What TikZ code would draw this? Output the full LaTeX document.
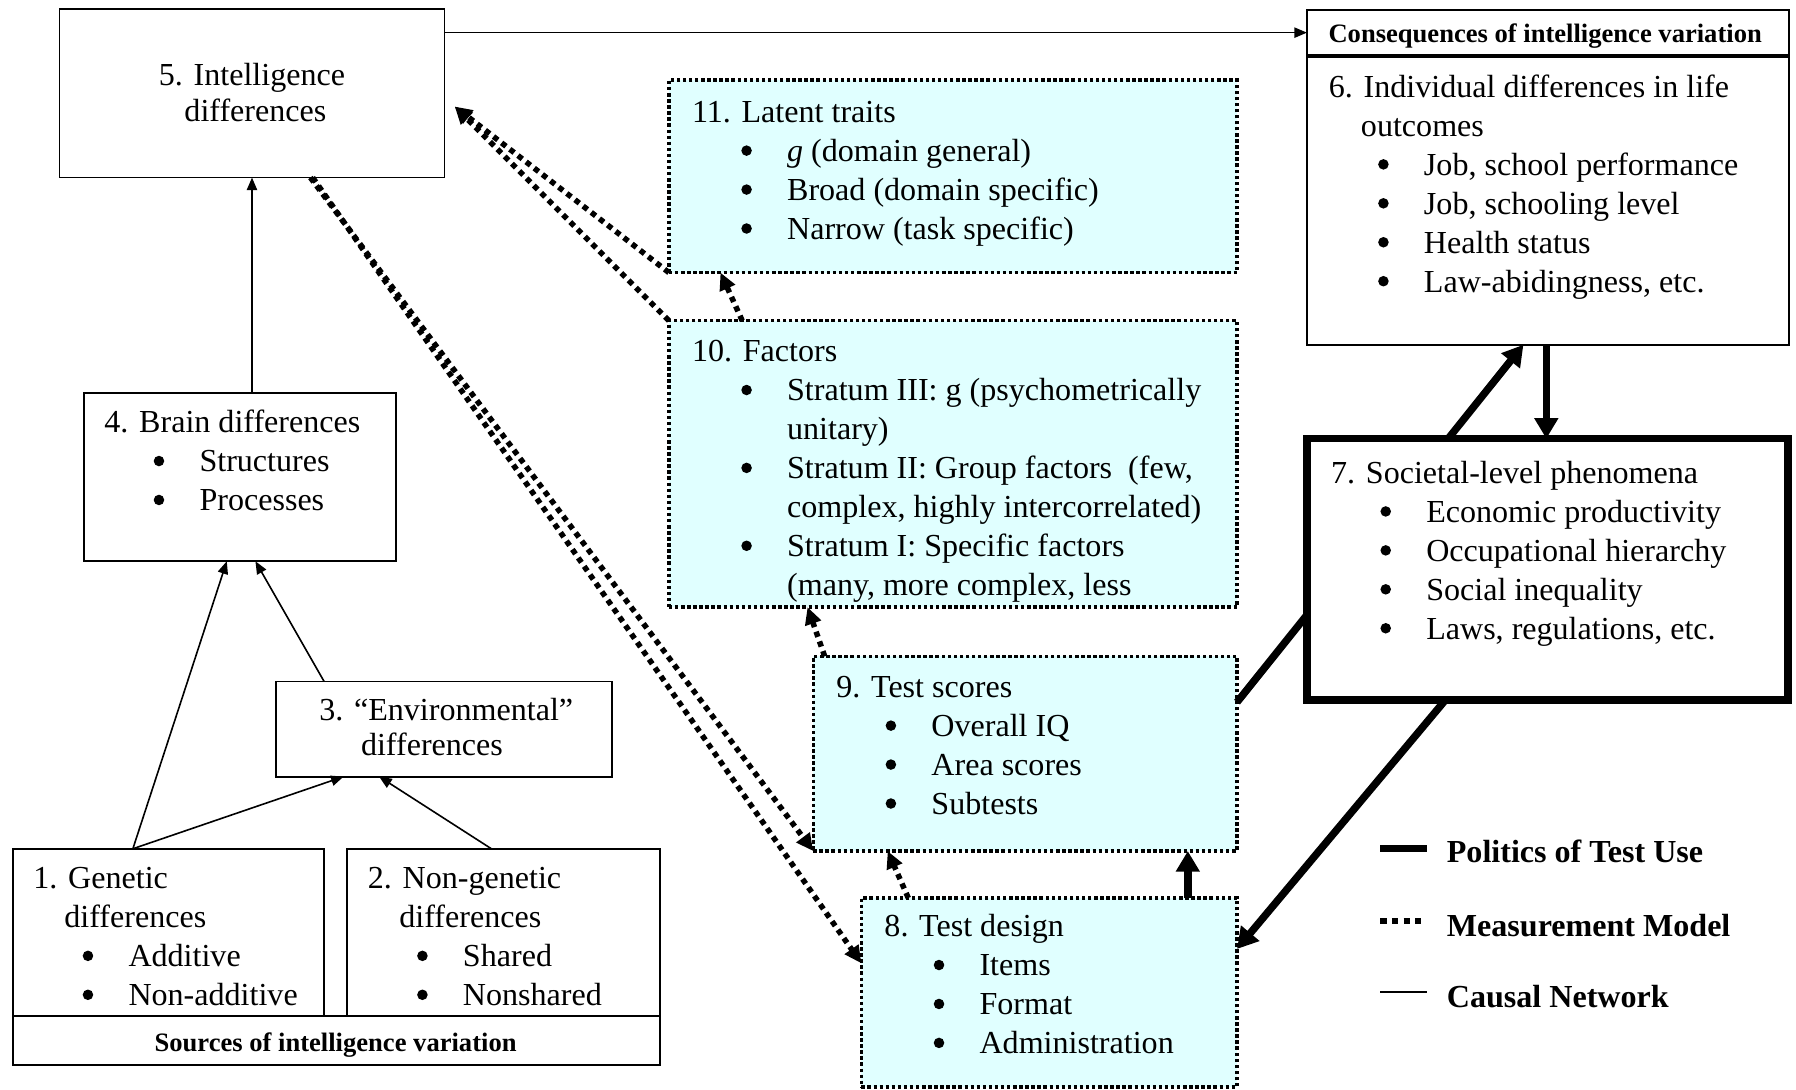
\documentclass[tikz,border=0pt]{standalone}
\usepackage{fontspec}
\setmainfont{Liberation Serif}
\usetikzlibrary{arrows.meta,calc}
\definecolor{lcyan}{RGB}{224,255,255}
\newcommand{\bigbul}{\tikz[baseline=0pt,x=1pt,y=1pt]{\path (0,0) (9.2,0);\fill (4.6,9.5) circle[radius=4.6pt];}}
\newcommand{\bul}[1]{\hspace*{43pt}\makebox[40pt][l]{\bigbul}#1}
\newcommand{\cnt}[1]{\hspace*{83pt}#1}
\newcommand{\lines}[1]{\parbox[t]{600pt}{#1}}
\begin{document}
\begin{tikzpicture}[x=1pt,y=-1pt,
  thinbox/.style={draw, line width=1.6pt, inner sep=0pt, outer sep=0pt, fill=white},
  dotbox/.style={draw, line width=3pt, dash pattern=on 3pt off 2.3pt, fill=lcyan, inner sep=0pt, outer sep=0pt},
  thickbox/.style={draw, line width=6.5pt, fill=white, inner sep=0pt, outer sep=0pt},
  txt/.style={anchor=base west, inner sep=0pt, font=\fontsize{28}{34}\selectfont},
  ctxt/.style={anchor=base, inner sep=0pt, font=\fontsize{28}{34}\selectfont},
  hdr/.style={anchor=base, inner sep=0pt, font=\fontsize{23.2}{27}\selectfont\bfseries},
  leg/.style={anchor=base west, inner sep=0pt, font=\fontsize{28}{34}\selectfont\bfseries},
  causal/.style={line width=1.4pt, -{Triangle[length=11pt,width=9pt]}},
  meas/.style={line width=4.8pt, dash pattern=on 4.8pt off 4.2pt, -{Triangle[length=15pt,width=14pt]}},
  pol/.style={line width=6.5pt, -{Triangle[length=18pt,width=20pt]}},
]
\useasboundingbox (0,0) rectangle (1568,951);

% boxes
\node[thinbox, minimum width=336pt, minimum height=147pt] (b5) at (220,81.5) {};
\node[thinbox, minimum width=421pt, minimum height=39pt] (bcons) at (1351.5,28.5) {};
\node[thinbox, minimum width=421pt, minimum height=251pt] (b6) at (1351.5,175.5) {};
\node[dotbox, minimum width=496pt, minimum height=168pt] (b11) at (832,154) {};
\node[dotbox, minimum width=496pt, minimum height=250pt] (b10) at (832,405) {};
\node[dotbox, minimum width=370pt, minimum height=170pt] (b9) at (895,658) {};
\node[dotbox, minimum width=328pt, minimum height=165pt] (b8) at (916,866.5) {};
\node[thinbox, minimum width=273pt, minimum height=147pt] (b4) at (209.5,416.5) {};
\node[thinbox, minimum width=293pt, minimum height=83pt] (b3) at (387.5,636.5) {};
\node[thinbox, minimum width=272pt, minimum height=146pt] (b1) at (147,814) {};
\node[thinbox, minimum width=273pt, minimum height=146pt] (b2) at (439.5,814) {};
\node[thinbox, minimum width=565pt, minimum height=43pt] (bsrc) at (293.5,908.5) {};

% politics line passing behind box 7
\draw[pol] ([yshift=45pt]b9.east) -- ([xshift=-21.5pt]b6.south);
\node[thickbox, minimum width=420pt, minimum height=228pt] (b7) at (1351,497) {};

% texts
\node[ctxt] (t5a) at (220,75) {5. Intelligence};
\node[ctxt] (t5b) at (223,106) {differences};
\node[hdr] (tcons) at (1349,37) {Consequences of intelligence variation};
\node[txt] (t6) at (1160,85) {\lines{6. Individual differences in life\\\hspace*{28pt}outcomes\\\bul{Job, school performance}\\\bul{Job, schooling level}\\\bul{Health status}\\\bul{Law-abidingness, etc.}}};
\node[txt] (t11) at (604,107) {\lines{11. Latent traits\\\bul{\textit{g} (domain general)}\\\bul{Broad (domain specific)}\\\bul{Narrow (task specific)}}};
\node[txt] (t10) at (604,316) {\lines{10. Factors\\\bul{Stratum III: g (psychometrically}\\\cnt{unitary)}\\\bul{Stratum II: Group factors\ \ (few,}\\\cnt{complex, highly intercorrelated)}\\\bul{Stratum I: Specific factors}\\\cnt{(many, more complex, less}}};
\node[txt] (t9) at (730,609) {\lines{9. Test scores\\\bul{Overall IQ}\\\bul{Area scores}\\\bul{Subtests}}};
\node[txt] (t8) at (772,818) {\lines{8. Test design\\\bul{Items}\\\bul{Format}\\\bul{Administration}}};
\node[txt] (t7) at (1162,422) {\lines{7. Societal-level phenomena\\\bul{Economic productivity}\\\bul{Occupational hierarchy}\\\bul{Social inequality}\\\bul{Laws, regulations, etc.}}};
\node[txt] (t4) at (91,378) {\lines{4. Brain differences\\\bul{Structures}\\\bul{Processes}}};
\node[txt] (t3a) at (278.6,629) {3. “Environmental”};
\node[txt] (t3b) at (315,660) {differences};
\node[txt] (t1) at (29,776) {\lines{1. Genetic\\\hspace*{27pt}differences\\\bul{Additive}\\\bul{Non-additive}}};
\node[txt] (t2) at (321,776) {\lines{2. Non-genetic\\\hspace*{27.5pt}differences\\\bul{Shared}\\\bul{Nonshared}}};
\node[hdr] (tsrc) at (293,918) {Sources of intelligence variation};

% causal network
\draw[causal] ([yshift=53pt]b5.east) -- (bcons.west);
\draw[causal] ([xshift=10.5pt]b4.north) -- (b5.south);
\draw[causal] ([xshift=-31pt]b1.north) -- ([xshift=-11.5pt]b4.south);
\draw[causal] ([xshift=-104.5pt]b3.north) -- ([xshift=13.5pt]b4.south);
\draw[causal] ([xshift=-31pt]b1.north) -- ([xshift=-87.5pt]b3.south);
\draw[causal] ([xshift=-10.5pt]b2.north) -- ([xshift=-56.5pt]b3.south);

% measurement model
\draw[meas] (b11.south west) -- ([xshift=9pt,yshift=-11.5pt]b5.east);
\draw[meas] (b10.north west) -- ([xshift=9pt,yshift=-11.5pt]b5.east);
\draw[meas] ([xshift=64pt]b10.north west) -- ([xshift=45pt]b11.south west);
\draw[meas] ([xshift=51pt]b5.south) -- (b9.south west);
\draw[meas] ([xshift=53pt]b5.south) -- ([yshift=25.5pt]b8.west);
\draw[meas] ([xshift=41pt]b8.north west) -- ([xshift=65pt]b9.south west);
\draw[meas] ([xshift=10pt]b9.north west) -- ([xshift=121pt]b10.south west);

% politics of test use
\draw[pol] ([xshift=-1.5pt]b6.south) -- ([xshift=-1pt]b7.north);
\draw[pol] ([xshift=-89pt]b7.south) -- ([yshift=38pt]b8.east);
\draw[pol] ([xshift=121pt]b8.north) -- ([xshift=142pt]b9.south);

% legend
\coordinate (lg1a) at (1205,741); \coordinate (lg1b) at (1246,741);
\coordinate (lg2a) at (1205,804); \coordinate (lg2b) at (1241,804);
\coordinate (lg3a) at (1205,866); \coordinate (lg3b) at (1246,866);
\draw[line width=6.5pt] (lg1a) -- (lg1b);
\draw[line width=5.8pt, dash pattern=on 5.5pt off 4.7pt] (lg2a) -- (lg2b);
\draw[line width=1.4pt] (lg3a) -- (lg3b);
\node[leg] (l1) at (1263,753) {Politics of Test Use};
\node[leg] (l2) at (1263,818) {Measurement Model};
\node[leg] (l3) at (1263,880) {Causal Network};
\end{tikzpicture}
\end{document}
